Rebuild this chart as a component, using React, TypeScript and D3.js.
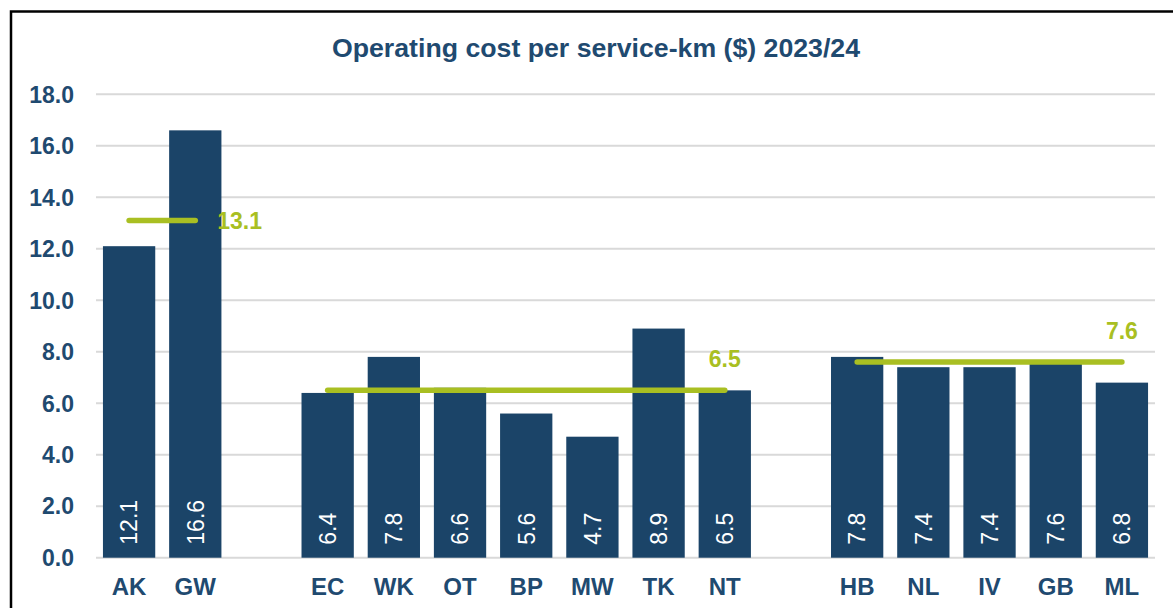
import React, { useRef, useEffect } from 'react';
import * as d3 from 'd3';

// chart data
const groupA = ['AK', 'GW'];
const groupB = ['EC', 'WK', 'OT', 'BP', 'MW', 'TK', 'NT'];
const groupC = ['HB', 'NL', 'IV', 'GB', 'ML'];
const costsA = [12.1, 16.6];
const costsB = [6.4, 7.8, 6.6, 5.6, 4.7, 8.9, 6.5];
const costsC = [7.8, 7.4, 7.4, 7.6, 6.8];
const groupAverages = [13.1, 6.5, 7.6];
const yTicks = [0, 2, 4, 6, 8, 10, 12, 14, 16, 18];
const title = 'Operating cost per service-km ($) 2023/24';

const App: React.FC = () => {
  const chartRef = useRef<SVGSVGElement | null>(null);

  useEffect(() => {
    if (!chartRef.current) return;
    document.body.style.margin = '0';

    const width = 1173;
    const height = 608;
    const font = '"Liberation Sans", Arial, sans-serif';
    const textColor = '#1f4a70';
    const barColor = '#1b4468';
    const avgColor = '#a9bf22';

    const groups = [
      { names: groupA, values: costsA, avg: groupAverages[0] },
      { names: groupB, values: costsB, avg: groupAverages[1] },
      { names: groupC, values: costsC, avg: groupAverages[2] },
    ];

    // slots with an empty gap between groups
    const slots: string[] = [];
    groups.forEach((g, i) => {
      if (i > 0) slots.push(`_gap${i}`);
      slots.push(...g.names);
    });
    const bars = groups.flatMap((g) => g.names.map((n, i) => ({ name: n, value: g.values[i] })));

    const svg = d3.select(chartRef.current);
    svg.selectAll('*').remove();
    svg.attr('width', width).attr('height', height);

    const x = d3.scaleBand().domain(slots).range([96, 1155]).paddingInner(0.21).paddingOuter(0.105);
    const y = d3.scaleLinear().domain([0, 18]).range([557.7, 94.3]);

    // frame
    svg
      .append('rect')
      .attr('x', 11)
      .attr('y', 11.5)
      .attr('width', 1250)
      .attr('height', 700)
      .attr('fill', '#fff')
      .attr('stroke', '#000')
      .attr('stroke-width', 2.5);

    // title
    svg
      .append('text')
      .attr('x', 596)
      .attr('y', 56.5)
      .attr('text-anchor', 'middle')
      .style('font-family', font)
      .style('font-weight', 'bold')
      .style('font-size', '26.7px')
      .attr('fill', textColor)
      .text(title);

    // gridlines + y labels
    svg
      .append('g')
      .selectAll('line')
      .data(yTicks)
      .enter()
      .append('line')
      .attr('x1', 96)
      .attr('x2', 1155)
      .attr('y1', (d) => y(d))
      .attr('y2', (d) => y(d))
      .attr('stroke', '#d9d9d9')
      .attr('stroke-width', 2);

    svg
      .append('g')
      .selectAll('text')
      .data(yTicks)
      .enter()
      .append('text')
      .attr('x', 74)
      .attr('y', (d) => y(d))
      .attr('dy', '0.36em')
      .attr('text-anchor', 'end')
      .style('font-family', font)
      .style('font-weight', 'bold')
      .style('font-size', '23px')
      .attr('fill', textColor)
      .text((d) => d.toFixed(1));

    // bars
    svg
      .append('g')
      .selectAll('rect')
      .data(bars)
      .enter()
      .append('rect')
      .attr('x', (d) => x(d.name)!)
      .attr('y', (d) => y(d.value))
      .attr('width', x.bandwidth())
      .attr('height', (d) => y(0) - y(d.value))
      .attr('fill', barColor);

    // value labels inside bars (rotated)
    svg
      .append('g')
      .selectAll('text')
      .data(bars)
      .enter()
      .append('text')
      .attr('transform', (d) => `translate(${x(d.name)! + x.bandwidth() / 2}, ${y(0) - 13}) rotate(-90)`)
      .attr('dy', '0.36em')
      .style('font-family', font)
      .style('font-size', '23px')
      .attr('fill', '#fff')
      .text((d) => d.value.toFixed(1));

    // category labels
    svg
      .append('g')
      .selectAll('text')
      .data(bars)
      .enter()
      .append('text')
      .attr('x', (d) => x(d.name)! + x.bandwidth() / 2)
      .attr('y', 595)
      .attr('text-anchor', 'middle')
      .style('font-family', font)
      .style('font-weight', 'bold')
      .style('font-size', '24px')
      .attr('fill', textColor)
      .text((d) => d.name);

    // group average lines
    const mid = (n: string) => x(n)! + x.bandwidth() / 2;
    const avg = svg.append('g');
    groups.forEach((g, i) => {
      const x1 = mid(g.names[0]);
      const x2 = mid(g.names[g.names.length - 1]);
      avg
        .append('line')
        .attr('x1', x1)
        .attr('x2', x2)
        .attr('y1', y(g.avg))
        .attr('y2', y(g.avg))
        .attr('stroke', avgColor)
        .attr('stroke-width', 5.5)
        .attr('stroke-linecap', 'round');

      const label = avg
        .append('text')
        .style('font-family', font)
        .style('font-weight', 'bold')
        .style('font-size', '23px')
        .attr('fill', avgColor)
        .text(g.avg.toFixed(1));
      if (i === 0) {
        label.attr('x', x2 + 22).attr('y', y(g.avg)).attr('dy', '0.36em');
      } else {
        label.attr('x', x2).attr('y', y(g.avg) - 23).attr('text-anchor', 'middle');
      }
    });
  }, []);

  return <svg ref={chartRef} style={{ display: 'block' }}></svg>;
};

export default App;
